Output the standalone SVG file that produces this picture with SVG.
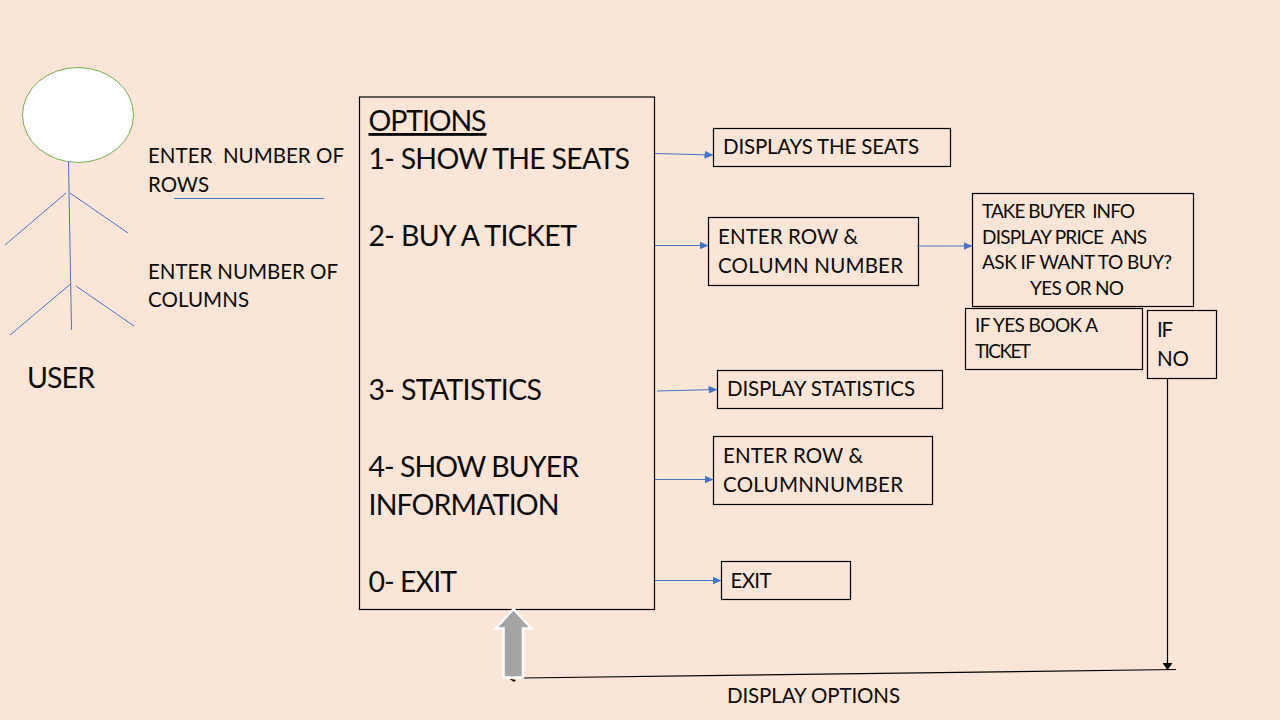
<svg xmlns="http://www.w3.org/2000/svg" width="1280" height="720" viewBox="0 0 1280 720">
<style>
text{font-family:"Lato","Open Sans","Liberation Sans",sans-serif;fill:#0a0a0a}
.b{fill:#fbe5d6;stroke:#000;stroke-width:1.2}
.m{font-size:28.500px}
.s{font-size:20.500px}
.t{font-size:19px}
.l{fill:none;stroke:#4472c4;stroke-width:1}
.k{fill:none;stroke:#000;stroke-width:1.200}
</style>
<defs>
<marker id="a" markerWidth="9" markerHeight="8" refX="8.500" refY="4" orient="auto" markerUnits="userSpaceOnUse"><path d="M0 0L9 4L0 8Z" fill="#4472c4"/></marker>
<marker id="k" markerWidth="7" markerHeight="10" refX="6.500" refY="5" orient="auto" markerUnits="userSpaceOnUse"><path d="M0 0L7 5L0 10Z" fill="#000"/></marker>
</defs>
<rect width="1280" height="720" fill="#fbe5d6"/>
<g id="user">
<ellipse cx="78" cy="115" rx="55.500" ry="47.500" fill="#fff" stroke="#70ad47" stroke-width="1"/>
<path class="l" d="M68.500 162L71.500 330M66 193L5 245M70 193L128 233M70.500 284L10 335M76 286L134 326"/>
<text x="27" y="388" class="m" textLength="68">USER</text>
</g>
<g id="inputs">
<text x="148" y="163" class="s" textLength="196" xml:space="preserve">ENTER  NUMBER OF</text>
<text x="148" y="192" class="s" textLength="61">ROWS</text>
<text x="148" y="279" class="s" textLength="190">ENTER NUMBER OF</text>
<text x="148" y="307" class="s" textLength="101">COLUMNS</text>
<path class="l" d="M174 198.500H324"/>
</g>
<g id="options">
<rect class="b" x="359.500" y="97" width="295" height="512.500"/>
<text x="368.500" y="131" class="m" textLength="118" text-decoration="underline">OPTIONS</text>
<text x="368.500" y="169" class="m" textLength="261.500">1- SHOW THE SEATS</text>
<text x="368.500" y="246" class="m" textLength="208.500">2- BUY A TICKET</text>
<text x="368.500" y="400" class="m" textLength="173.500">3- STATISTICS</text>
<text x="368.500" y="477" class="m" textLength="210.500">4- SHOW BUYER</text>
<text x="368.500" y="515" class="m" textLength="191">INFORMATION</text>
<text x="368.500" y="592" class="m" textLength="88.500">0- EXIT</text>
</g>
<g id="seats"><rect class="b" x="713.500" y="128.500" width="237" height="38"/><text x="723" y="154" class="s" textLength="196">DISPLAYS THE SEATS</text></g>
<g id="enter-row-buy"><rect class="b" x="708.500" y="217.500" width="210" height="68"/><text x="718" y="244" class="s" textLength="140">ENTER ROW &amp;</text><text x="718" y="273" class="s" textLength="185">COLUMN NUMBER</text></g>
<g id="buyer-info"><rect class="b" x="972.500" y="193.500" width="221" height="113"/>
<text x="982" y="218" class="t" textLength="153" xml:space="preserve">TAKE BUYER  INFO</text>
<text x="982" y="244" class="t" textLength="165" xml:space="preserve">DISPLAY PRICE  ANS</text>
<text x="982" y="269" class="t" textLength="190">ASK IF WANT TO BUY?</text>
<text x="1030" y="295" class="t" textLength="94">YES OR NO</text></g>
<g id="if-yes"><rect class="b" x="965.500" y="308.500" width="177" height="61"/><text x="975" y="332" class="t" textLength="123">IF YES BOOK A</text><text x="975" y="358" class="t" textLength="56">TICKET</text></g>
<g id="if-no"><rect class="b" x="1147.500" y="310.500" width="69" height="68"/><text x="1157" y="337" class="s" textLength="16">IF</text><text x="1157" y="366" class="s" textLength="32">NO</text></g>
<g id="statistics"><rect class="b" x="717.500" y="370.500" width="225" height="38"/><text x="727" y="396" class="s" textLength="188">DISPLAY STATISTICS</text></g>
<g id="enter-row-show"><rect class="b" x="713.500" y="436.500" width="219" height="68"/><text x="723" y="463" class="s" textLength="140">ENTER ROW &amp;</text><text x="723" y="492" class="s" textLength="180">COLUMNNUMBER</text></g>
<g id="exit"><rect class="b" x="721.500" y="561.500" width="129" height="38"/><text x="730.500" y="588" class="s" textLength="41">EXIT</text></g>
<g id="connectors">
<path class="l" marker-end="url(#a)" d="M655 153.500L713 155"/>
<path class="l" marker-end="url(#a)" d="M655 245.500H708"/>
<path class="l" marker-end="url(#a)" d="M917 246H972"/>
<path class="l" marker-end="url(#a)" d="M657 391L717 389.500"/>
<path class="l" marker-end="url(#a)" d="M655 479.500H713"/>
<path class="l" marker-end="url(#a)" d="M655 580.500H721"/>
<path class="k" marker-end="url(#k)" d="M1167.500 379V669.500"/>
<path class="k" d="M1176 669.500L522 678"/>
<path d="M509 678.500L516 680L514 682Z" fill="#000"/>
<path d="M503.500 677.500V628.500H495.500L513.500 609L531.500 628.500H523V677.500Z" fill="#a5a5a5" stroke="#fff" stroke-width="2.500"/>
</g>
<g id="display-options"><text x="727" y="703" class="s" textLength="173">DISPLAY OPTIONS</text></g>
</svg>
